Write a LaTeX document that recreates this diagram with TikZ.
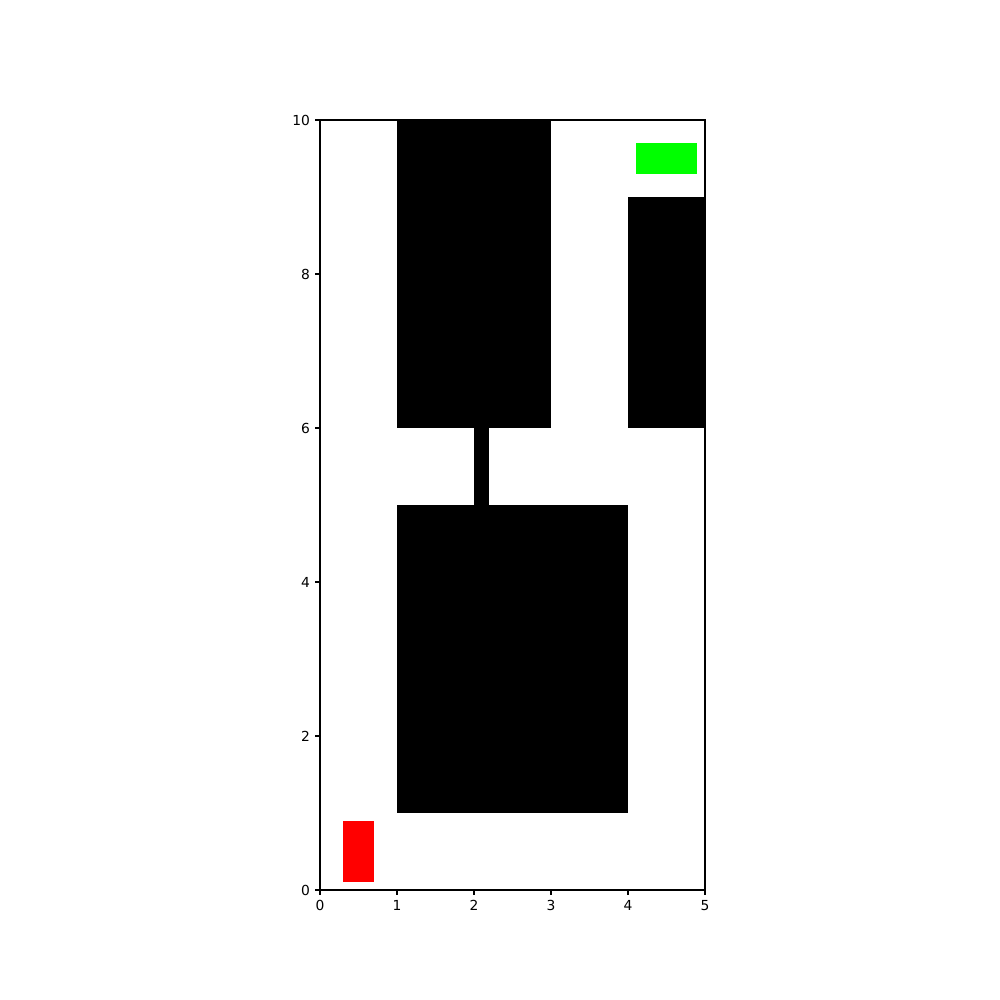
\documentclass[tikz,border=0pt]{standalone}
\usepackage{fontspec}
\setmainfont{DejaVu Sans}
\definecolor{goalgreen}{RGB}{0,255,0}
\definecolor{startred}{RGB}{255,0,0}
\begin{document}
\begin{tikzpicture}[obstacle/.style={fill=black},
    startbox/.style={fill=startred},
    goalbox/.style={fill=goalgreen},
    spine/.style={line width=0.8pt},
    ticklabel/.style={inner sep=0pt,font=\fontsize{10}{12}\selectfont}]
    \useasboundingbox (0,0) rectangle (10in,10in);
    \begin{scope}[shift={(3.2in,1.1in)},x=0.77in,y=0.77in]
    % obstacles
    \fill[obstacle] (1,6) rectangle (3,10);
    \fill[obstacle] (4,6) rectangle (5,9);
    \fill[obstacle] (2,5) rectangle (2.2,6);
    \fill[obstacle] (1,1) rectangle (4,5);
    % start and goal
    \fill[startbox] (0.3,0.1) rectangle (0.7,0.9);
    \fill[goalbox] (4.1,9.3) rectangle (4.9,9.7);
    % axes
    \draw[spine] (0,0) rectangle (5,10);
    \foreach \x in {0,...,5} {
        \draw[spine] (\x,0) -- ++(0,-3.5pt) coordinate (xt\x);
        \node[ticklabel,below=3.5pt] (xl\x) at (xt\x) {\x};
    }
    \foreach \y in {0,2,...,10} {
        \draw[spine] (0,\y) -- ++(-3.5pt,0) coordinate (yt\y);
        \node[ticklabel,left=3.5pt] (yl\y) at (yt\y) {\y};
    }
    \end{scope}
\end{tikzpicture}
\end{document}
